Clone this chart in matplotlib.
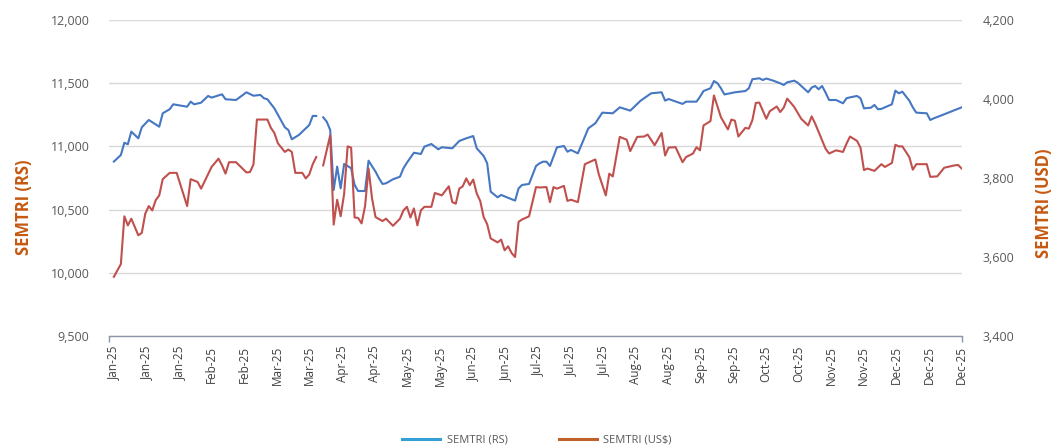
import numpy as np
import matplotlib
matplotlib.use("Agg")
import matplotlib.pyplot as plt
from matplotlib.lines import Line2D
from matplotlib.ticker import FuncFormatter

plt.rcParams['font.family'] = ['Open Sans', 'DejaVu Sans']

# ---- data (trading-day index, value) ----
rs_idx = [0,2,3,4,5,7,8,10,13,14,16,17,21,22,23,25,27,28,31,32,35,38,40,42,43,44,46,49,50,51,53,56,57,58,59,
          60,61,62,63,64,65,66,67,68,69,70,72,73,75,76,77,78,80,82,83,84,86,88,89,91,93,94,97,99,101,103,104,
          106,107,108,110,111,115,116,117,119,121,122,123,124,125,127,129,130,131,133,136,138,140,143,145,148,
          151,154,157,158,159,163,164,167,168,169,171,172,173,174,175,178,181,182,183,185,186,187,189,191,192,
          193,195,196,199,200,201,202,203,204,205,207,209,210,211,213,214,215,217,218,219,220,223,224,225,226,
          228,229,230,233,234,235,238,243]
rs_val = [10880,10932,11029,11017,11117,11064,11151,11209,11156,11262,11294,11333,11314,11354,11333,11346,11399,
          11386,11412,11373,11367,11428,11401,11407,11381,11373,11301,11151,11130,11056,11090,11169,11241,11241,np.nan,
          11230,11196,11130,10655,10840,10668,10861,10845,10827,10695,10647,10647,10887,10800,10748,10703,10708,
          10740,10760,10827,10871,10950,10940,10998,11019,10977,10993,10985,11043,11064,11082,10985,10924,10866,
          10642,10597,10616,10571,10668,10695,10703,10845,10866,10879,10879,10845,10993,11003,10958,10972,10945,
          11143,11183,11267,11262,11309,11283,11362,11420,11428,11362,11375,11336,11354,11354,11393,11438,11460,
          11517,11500,11460,11411,11428,11438,11460,11531,11539,11525,11537,11520,11499,11486,11507,11520,11504,
          11428,11465,11478,11452,11478,11425,11367,11367,11341,11381,11388,11399,11381,11301,11306,11328,11294,
          11297,11333,11441,11420,11433,11362,11309,11267,11262,11209,11222,11254,11309]

usd_idx = [0,2,3,4,5,7,8,9,10,11,12,13,14,16,18,21,22,24,25,28,30,31,32,33,35,38,39,40,41,44,45,46,47,49,50,51,
           52,54,55,56,57,58,59,60,62,63,64,65,66,67,68,69,70,71,72,73,74,75,77,78,80,82,83,84,85,86,87,88,89,91,
           92,94,96,97,98,99,100,101,102,103,104,105,106,107,108,110,111,112,113,114,115,116,117,119,121,122,124,
           125,126,127,129,130,131,133,135,138,139,141,142,143,145,147,148,150,152,153,155,157,158,159,161,163,
           164,166,167,168,169,171,172,174,176,177,178,179,181,182,183,184,185,187,188,189,190,191,192,193,195,
           197,199,200,201,204,205,207,209,210,211,213,214,215,216,218,220,221,223,224,225,226,228,229,230,233,
           234,236,238,241,242,243]
usd_val = [3550,3582,3703,3680,3697,3655,3661,3710,3729,3718,3744,3756,3797,3813,3813,3729,3797,3790,3773,3828,
           3849,3832,3811,3840,3840,3814,3815,3834,3948,3948,3927,3914,3888,3866,3872,3866,3813,3813,3799,3809,
           3835,3853,np.nan,3832,3908,3682,3745,3703,3760,3880,3877,3700,3699,3685,3729,3824,3748,3701,3691,3697,
           3679,3697,3718,3727,3700,3723,3680,3718,3727,3727,3762,3756,3779,3739,3735,3773,3779,3799,3782,3796,
           3761,3742,3701,3683,3647,3637,3644,3617,3627,3610,3600,3689,3695,3703,3777,3776,3777,3739,3777,3773,
           3780,3742,3745,3739,3835,3847,3809,3756,3811,3804,3904,3897,3868,3904,3905,3910,3883,3914,3857,3877,
           3878,3840,3853,3862,3878,3870,3933,3944,4009,3954,3923,3948,3945,3905,3927,3925,3946,3990,3991,3950,
           3969,3975,3981,3967,3978,4001,3980,3950,3933,3956,3938,3874,3862,3870,3866,3887,3905,3894,3877,3820,
           3824,3818,3835,3828,3838,3884,3880,3880,3853,3821,3835,3835,3803,3804,3826,3832,3833,3824]

tick_labels = ['Jan-25','Jan-25','Jan-25','Feb-25','Feb-25','Mar-25','Mar-25','Apr-25','Apr-25',
               'May-25','May-25','Jun-25','Jun-25','Jul-25','Jul-25','Jul-25','Aug-25','Aug-25',
               'Sep-25','Sep-25','Oct-25','Oct-25','Nov-25','Nov-25','Dec-25','Dec-25','Dec-25']
n_days = 243

left_ticks = [9500, 10000, 10500, 11000, 11500, 12000]
right_ticks = [3400, 3600, 3800, 4000, 4200]

# ---- figure ----
W, H = 1051, 448
fig = plt.figure(figsize=(W/100, H/100), dpi=100)
ax = fig.add_axes([109/W, 1-336/H, (962-109)/W, (336-20)/H])
ax2 = ax.twinx()

line_blue = '#4677C2'
line_red = '#C0504D'
ax.plot(rs_idx, rs_val, color=line_blue, lw=1.5, solid_joinstyle='round')
ax2.plot(usd_idx, usd_val, color=line_red, lw=1.5, solid_joinstyle='round')

ax.set_ylim(9500, 12000)
ax2.set_ylim(3400, 4200)
ax.set_xlim(-1.4, n_days + 0.1)
ax.set_yticks(left_ticks)
ax2.set_yticks(right_ticks)
fmt = FuncFormatter(lambda v, p: f'{int(v):,}')
ax.yaxis.set_major_formatter(fmt)
ax2.yaxis.set_major_formatter(fmt)

ax.grid(axis='y', color='#D9D9D9', lw=1)
ax.set_axisbelow(True)

for a in (ax, ax2):
    for s in ('top', 'left', 'right'):
        a.spines[s].set_visible(False)
ax2.spines['bottom'].set_visible(False)
ax.spines['bottom'].set_color('#8A96A6')
ax.spines['bottom'].set_linewidth(1)

ax.tick_params(axis='y', length=0, pad=14, labelsize=9, labelcolor='#595959')
ax2.tick_params(axis='y', length=0, pad=15, labelsize=9, labelcolor='#595959')

ticks = np.linspace(0, n_days, len(tick_labels))
ax.set_xticks(ticks)
ax.set_xticklabels(tick_labels, rotation=90, fontsize=8.5, color='#404040')
ax.tick_params(axis='x', length=0, pad=7)
xl = ax.get_xlim()
ax.set_xticks([xl[0], xl[1]], minor=True)
ax.tick_params(axis='x', which='minor', length=4, color='#8A96A6', width=1)

lab_color = '#C55A11'
fig.text(24/W, 1-207/H, 'SEMTRI (RS)', rotation=90, ha='center', va='center',
         fontsize=12, fontweight='bold', color=lab_color)
fig.text(1044/W, 1-203/H, 'SEMTRI (USD)', rotation=90, ha='center', va='center',
         fontsize=12, fontweight='bold', color=lab_color)

handles = [Line2D([0], [0], color='#35A0D6', lw=2.2),
           Line2D([0], [0], color='#C0612A', lw=2.2)]
fig.legend(handles, ['SEMTRI (RS)', 'SEMTRI (US$)'], loc='center', bbox_to_anchor=(537/W, 1-440/H),
           ncol=2, frameon=False, fontsize=8, labelcolor='#595959', handlelength=3.4,
           handletextpad=0.6, columnspacing=4.6)

fig.savefig('out.png', dpi=100)
